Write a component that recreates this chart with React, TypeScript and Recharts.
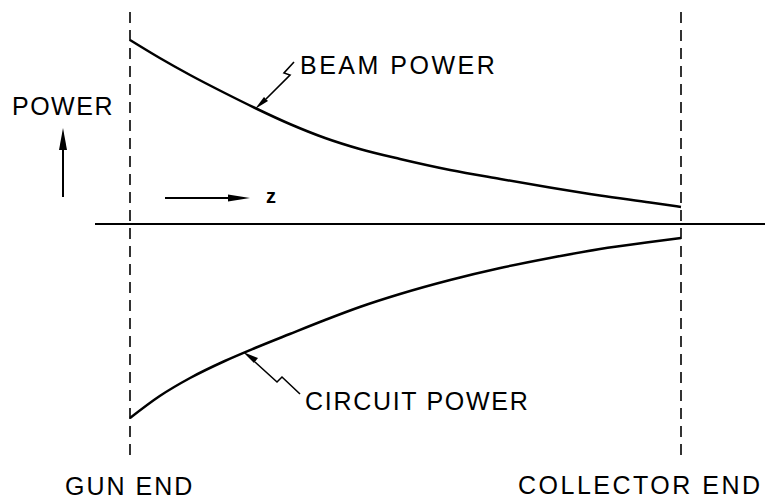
import React from "react"
import { LineChart, Line, XAxis, YAxis, ReferenceLine } from "recharts"

// position along the tube, 0 = gun end, 1 = collector end
const zPos = [0, 0.054, 0.109, 0.172, 0.227, 0.29, 0.354, 0.417, 0.49, 0.581, 0.672, 0.762, 0.853, 0.944, 1]
const beamPower = [184, 166, 149, 131, 116, 100, 86, 75, 65, 54, 45, 36.5, 28.5, 21.5, 17]
const circuitPower = [-194, -172, -154, -137, -124, -110, -96, -83, -70, -56, -44, -34, -25, -18, -14]

const endLabels = ["GUN END", "COLLECTOR END"]
const seriesLabels = ["BEAM POWER", "CIRCUIT POWER"]

const data = zPos.map((z, i) => ({ z, beam: beamPower[i], circuit: circuitPower[i] }))

const W = 765
const H = 501
const font = "'Liberation Sans', Arial, sans-serif"

const Overlay = () => (
  <svg
    width={W}
    height={H}
    style={{ position: "absolute", left: 0, top: 0, pointerEvents: "none" }}
  >
    <g fontFamily={font} fontSize={25} fill="#000">
      <text x={12} y={115} letterSpacing={1.5}>POWER</text>
      <text x={300} y={74} letterSpacing={2.5}>{seriesLabels[0]}</text>
      <text x={305} y={410} letterSpacing={1.7}>{seriesLabels[1]}</text>
      <text x={65} y={495} letterSpacing={2}>{endLabels[0]}</text>
      <text x={518} y={494} letterSpacing={2.5}>{endLabels[1]}</text>
      <text x={266} y={203} fontSize={20} fontWeight="bold">z</text>
    </g>

    {/* power arrow */}
    <line x1={63} y1={197} x2={63} y2={146} stroke="#000" strokeWidth={2} />
    <polygon points="63,128 59,150 67,150" fill="#000" />

    {/* z arrow */}
    <line x1={165} y1={198} x2={232} y2={198} stroke="#000" strokeWidth={2} />
    <polygon points="250,198 228,194.5 228,201.5" fill="#000" />

    {/* beam leader */}
    <polyline
      points="294,62 284,73 290,75 266,99"
      fill="none"
      stroke="#000"
      strokeWidth={1.6}
    />
    <polygon points="255,109 268,101 264,97" fill="#000" />

    {/* circuit leader */}
    <polyline
      points="300,394 282,377 277,382 255,362"
      fill="none"
      stroke="#000"
      strokeWidth={1.6}
    />
    <polygon points="243,352 258,358 254,363" fill="#000" />
  </svg>
)

export default function App() {
  return (
    <div
      style={{
        position: "absolute",
        left: 0,
        top: 0,
        width: W,
        height: H,
        background: "#fff",
      }}
    >
      <LineChart
        width={W}
        height={H}
        data={data}
        margin={{ top: 12, right: 0, bottom: 46, left: 95 }}
      >
        <XAxis
          dataKey="z"
          type="number"
          domain={[-35 / 551, 635 / 551]}
          allowDataOverflow
          hide
        />
        <YAxis type="number" domain={[-231, 212]} allowDataOverflow hide />
        <ReferenceLine y={0} stroke="#000" strokeWidth={2} />
        <ReferenceLine x={0} stroke="#000" strokeWidth={1.6} strokeDasharray="11 7" />
        <ReferenceLine x={1} stroke="#000" strokeWidth={1.6} strokeDasharray="11 7" />
        <Line
          type="monotone"
          dataKey="beam"
          stroke="#000"
          strokeWidth={2.5}
          dot={false}
          isAnimationActive={false}
        />
        <Line
          type="monotone"
          dataKey="circuit"
          stroke="#000"
          strokeWidth={2.5}
          dot={false}
          isAnimationActive={false}
        />
      </LineChart>
      <Overlay />
    </div>
  )
}
